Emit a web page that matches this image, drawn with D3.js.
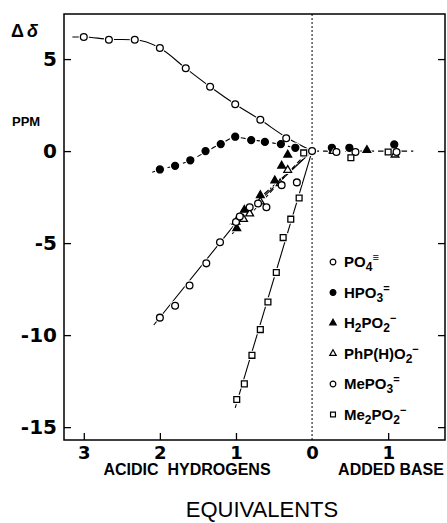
<!DOCTYPE html>
<html>
<head>
<meta charset="utf-8">
<script src="https://cdn.jsdelivr.net/npm/d3@7"></script>
<style>
  body { margin: 0; background: #fff; }
  svg { display: block; }
</style>
</head>
<body>
<svg width="447" height="523"></svg>
<script>
// x is signed: negative = acidic hydrogens, positive = added base
const xTicks = [-3, -2, -1, 0, 1];
const yTicks = [-15, -10, -5, 0, 5];

const po4X = [-3.0, -2.67, -2.33, -2.0, -1.66, -1.34, -1.01, -0.68, -0.34, 0];
const po4Y = [6.2, 6.05, 6.05, 5.6, 4.5, 3.5, 2.55, 1.7, 0.7, 0];
const hpo3X = [-2.0, -1.8, -1.6, -1.4, -1.2, -1.01, -0.8, -0.62, -0.41, -0.22, 0.26, 0.49, 1.08];
const hpo3Y = [-1.0, -0.8, -0.5, 0, 0.38, 0.78, 0.6, 0.5, 0.38, 0.18, 0.18, 0.18, 0.36];
const h2po2X = [-0.99, -0.89, -0.68, -0.49, -0.40, -0.32, 0.28, 0.72];
const h2po2Y = [-4.2, -3.2, -2.4, -1.6, -0.8, -0.2, 0.05, 0.05];
const phpX = [-1.0, -0.9, -0.82, -0.68, -0.42, -0.32, 0.28, 1.09];
const phpY = [-3.85, -3.7, -3.4, -2.75, -1.76, -1.03, 0, -0.2];
const mepo3X = [-2.0, -1.8, -1.61, -1.39, -1.21, -1.0, -0.95, -0.82, -0.71, -0.6, -0.4, -0.2, 0.32, 0.57, 1.11];
const mepo3Y = [-9.05, -8.4, -7.3, -6.1, -4.95, -3.85, -3.55, -3.05, -2.85, -3.05, -1.85, -1.7, -0.05, -0.05, -0.05];
const me2X = [-0.99, -0.89, -0.79, -0.68, -0.58, -0.47, -0.38, -0.28, -0.17, -0.11, 0.51, 1.0];
const me2Y = [-13.5, -12.65, -11.1, -9.7, -8.2, -6.6, -4.7, -3.7, -2.55, -0.1, -0.36, -0.05];

// hand drawn curves through the points
const po4LineX = [-3.15, -3.0, -2.67, -2.33, -2.0, -1.66, -1.34, -1.01, -0.68, -0.34, 0];
const po4LineY = [6.2, 6.2, 6.08, 6.05, 5.6, 4.5, 3.5, 2.55, 1.7, 0.75, 0];
const hpo3LineX = [-2.1, -2.0, -1.8, -1.6, -1.4, -1.2, -1.0, -0.8, -0.6, -0.4, -0.2, 0];
const hpo3LineY = [-1.15, -1.0, -0.8, -0.5, -0.05, 0.4, 0.75, 0.62, 0.5, 0.35, 0.15, 0];
const baseLineX = [0, 1.33];
const baseLineY = [0, 0];
const h2po2LineX = [-1.05, -0.05];
const h2po2LineY = [-4.5, 0];
const phpLineX = [-1.08, 0];
const phpLineY = [-4.0, 0];
const mepo3LineX = [-2.08, -1.0, 0];
const mepo3LineY = [-9.45, -3.9, 0];
const me2LineX = [-1.01, 0];
const me2LineY = [-13.95, 0];

const legendLabels = [
  [["PO", ""], ["4", "sub"], ["\u2261", "sup"]],
  [["HPO", ""], ["3", "sub"], ["=", "sup"]],
  [["H", ""], ["2", "sub"], ["PO", ""], ["2", "sub"], ["\u2212", "sup"]],
  [["PhP(H)O", ""], ["2", "sub"], ["\u2212", "sup"]],
  [["MePO", ""], ["3", "sub"], ["=", "sup"]],
  [["Me", ""], ["2", "sub"], ["PO", ""], ["2", "sub"], ["\u2212", "sup"]]
];

const zip = (a, b) => a.map((v, i) => [v, b[i]]);

const series = [
  {pts: zip(po4X, po4Y), line: zip(po4LineX, po4LineY), sym: d3.symbolCircle, size: 36, fill: "#fff", dash: null, curve: d3.curveMonotoneX},
  {pts: zip(hpo3X, hpo3Y), line: zip(hpo3LineX, hpo3LineY), sym: d3.symbolCircle, size: 38, fill: "#000", dash: "5,3", curve: d3.curveMonotoneX},
  {pts: zip(h2po2X, h2po2Y), line: zip(h2po2LineX, h2po2LineY), sym: d3.symbolTriangle, size: 26, fill: "#000", dash: "5,3", curve: d3.curveLinear},
  {pts: zip(phpX, phpY), line: zip(phpLineX, phpLineY), sym: d3.symbolTriangle, size: 26, fill: "#fff", dash: "6,2,1.5,2", curve: d3.curveLinear},
  {pts: zip(mepo3X, mepo3Y), line: zip(mepo3LineX, mepo3LineY), sym: d3.symbolCircle, size: 36, fill: "#fff", dash: null, curve: d3.curveLinear},
  {pts: zip(me2X, me2Y), line: zip(me2LineX, me2LineY), sym: d3.symbolSquare, size: 34, fill: "#fff", dash: null, curve: d3.curveLinear}
];

const svg = d3.select("svg");
const x = d3.scaleLinear().domain([-3.26, 1.76]).range([64, 446]);
const y = d3.scaleLinear().domain([-15.7, 7.45]).range([440, 14]);

const numFont = "'DejaVu Sans', sans-serif";
const txtFont = "'Liberation Sans', Arial, sans-serif";

// dotted zero line
svg.append("line")
  .attr("x1", x(0)).attr("x2", x(0))
  .attr("y1", y.range()[1]).attr("y2", y.range()[0])
  .attr("stroke", "#000").attr("stroke-width", 1)
  .attr("stroke-dasharray", "2,2");

// axes
const xAxis = svg.append("g")
  .attr("transform", `translate(0,${y.range()[0]})`)
  .call(d3.axisBottom(x).tickValues(xTicks).tickSize(-7).tickPadding(6).tickFormat(d => Math.abs(d)));
xAxis.selectAll("line").filter(d => d === 0).remove();

const yAxis = svg.append("g")
  .attr("transform", `translate(${x.range()[0]},0)`)
  .call(d3.axisLeft(y).tickValues(yTicks).tickSize(-7).tickPadding(7).tickFormat(d => d));

const yAxisR = svg.append("g")
  .attr("transform", `translate(${x.range()[1] - 1},0)`)
  .call(d3.axisRight(y).tickValues(yTicks).tickSize(-7).tickFormat(""));

[xAxis, yAxis, yAxisR].forEach(g => {
  g.select(".domain").remove();
  g.selectAll("line").attr("stroke-width", 1.3);
});
xAxis.selectAll("text").attr("font-family", numFont).attr("font-weight", "bold").attr("font-size", 18);
yAxis.selectAll("text").attr("font-family", numFont).attr("font-weight", "bold").attr("font-size", 20);

// frame
svg.append("rect")
  .attr("x", x.range()[0]).attr("y", y.range()[1])
  .attr("width", x.range()[1] - x.range()[0] - 1)
  .attr("height", y.range()[0] - y.range()[1])
  .attr("fill", "none").attr("stroke", "#000").attr("stroke-width", 1.5);

// lines
const line = d3.line().x(d => x(d[0])).y(d => y(d[1]));
series.forEach(s => {
  svg.append("path")
    .attr("d", line.curve(s.curve)(s.line))
    .attr("fill", "none").attr("stroke", "#000").attr("stroke-width", 1.1)
    .attr("stroke-dasharray", s.dash);
});
svg.append("path")
  .attr("d", line.curve(d3.curveLinear)(zip(baseLineX, baseLineY)))
  .attr("fill", "none").attr("stroke", "#000").attr("stroke-width", 1.1)
  .attr("stroke-dasharray", "7,4");

// white halos so the lines break round the markers
series.forEach(s => {
  svg.append("g").selectAll("path")
    .data(s.pts).join("path")
    .attr("transform", d => `translate(${x(d[0])},${y(d[1])})`)
    .attr("d", d3.symbol(s.sym, s.size))
    .attr("fill", "#fff").attr("stroke", "#fff").attr("stroke-width", 3.5);
});
series.forEach(s => {
  svg.append("g").selectAll("path")
    .data(s.pts).join("path")
    .attr("transform", d => `translate(${x(d[0])},${y(d[1])})`)
    .attr("d", d3.symbol(s.sym, s.size))
    .attr("fill", s.fill).attr("stroke", "#000").attr("stroke-width", 1.3);
});

// legend
const legend = svg.append("g");
legendLabels.forEach((parts, i) => {
  const ly = 262 + i * 30.5;
  const s = series[i];
  legend.append("path")
    .attr("transform", `translate(333,${ly})`)
    .attr("d", d3.symbol(s.sym, s.size * 0.7))
    .attr("fill", s.fill).attr("stroke", "#000").attr("stroke-width", 1.2);
  const t = legend.append("text")
    .attr("x", 344).attr("y", ly + 5)
    .attr("font-family", txtFont).attr("font-weight", "bold").attr("font-size", 15);
  let shift = 0;
  parts.forEach(p => {
    const ts = t.append("tspan").text(p[0]);
    const want = p[1] === "sub" ? 4 : p[1] === "sup" ? -6 : 0;
    if (p[1] === "sub") ts.attr("font-size", 12);
    if (p[1] === "sup") ts.attr("font-size", 11);
    ts.attr("dy", want - shift);
    shift = want;
  });
});

// titles
svg.append("text").attr("x", 11).attr("y", 37)
  .attr("font-family", txtFont).attr("font-weight", "bold").attr("font-size", 18)
  .text("\u0394").append("tspan").attr("dx", 3).attr("font-style", "italic").text("\u03b4");
svg.append("text").attr("x", 12).attr("y", 126)
  .attr("font-family", txtFont).attr("font-weight", "bold").attr("font-size", 13)
  .text("PPM");
svg.append("text").attr("x", 187).attr("y", 475).attr("text-anchor", "middle")
  .attr("font-family", txtFont).attr("font-weight", "bold").attr("font-size", 16)
  .attr("xml:space", "preserve")
  .text("ACIDIC  HYDROGENS");
svg.append("text").attr("x", 391).attr("y", 475).attr("text-anchor", "middle")
  .attr("font-family", txtFont).attr("font-weight", "bold").attr("font-size", 16)
  .text("ADDED BASE");
svg.append("text").attr("x", 262).attr("y", 517).attr("text-anchor", "middle")
  .attr("font-family", txtFont).attr("font-size", 22)
  .text("EQUIVALENTS");
</script>
</body>
</html>
